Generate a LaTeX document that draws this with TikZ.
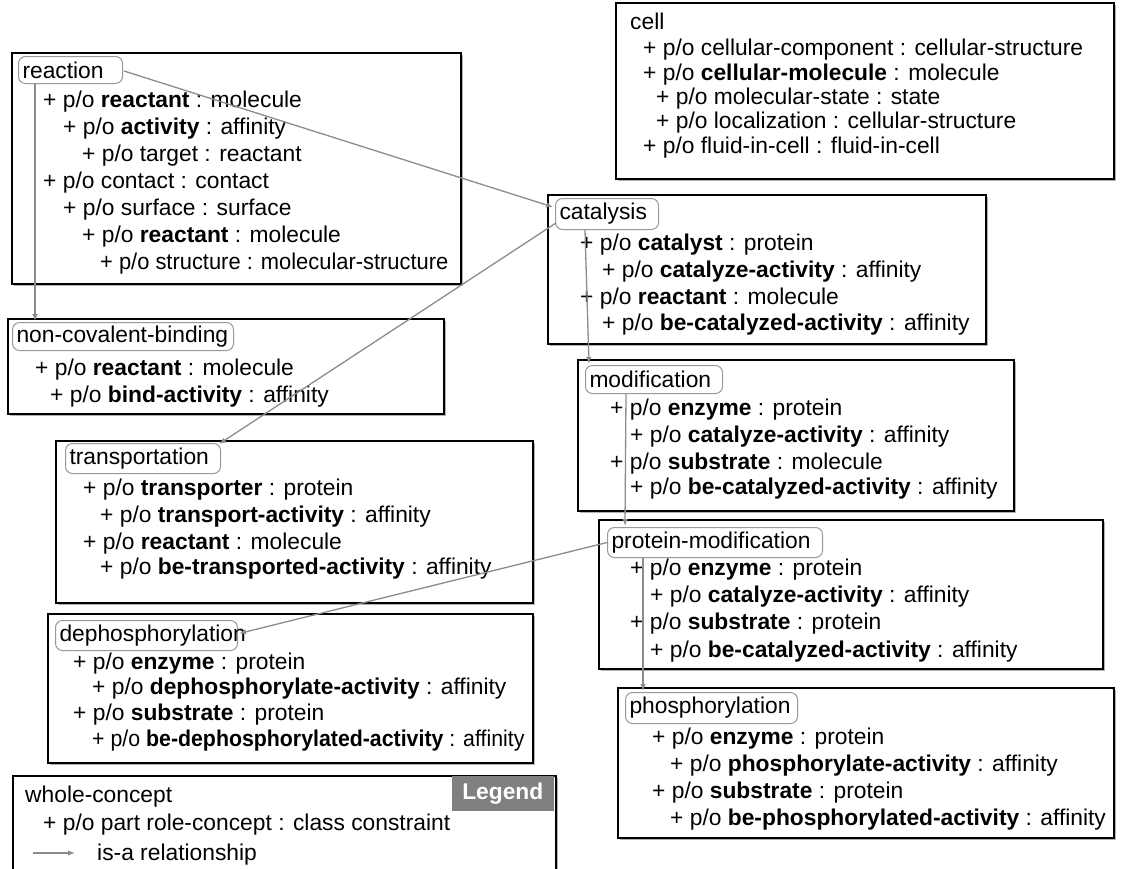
\documentclass[tikz,border=0pt]{standalone}
\usepackage{fontspec}
\usepackage{graphicx}
\setmainfont{Liberation Sans}
\usetikzlibrary{arrows.meta,calc,shadows}
\newcommand{\dfont}{\fontsize{22.8pt}{27pt}\selectfont}
\newcommand{\pline}[4]{\node[ptext] (#1) at (#2,#3) {#4};}
\begin{document}
\begin{tikzpicture}[x=1pt,y=-1pt,
  box/.style={draw=black, line width=1.6pt, fill=white, anchor=north west, inner sep=0pt,
    drop shadow={shadow xshift=2pt, shadow yshift=-2pt, fill=black!60, opacity=0.5}},
  lbl/.style={draw=black!40, line width=1pt, rounded corners=7pt, fill=white, anchor=north west,
    inner xsep=4pt, inner ysep=0pt, align=left, font=\dfont},
  ptext/.style={anchor=base west, inner sep=0pt, font=\dfont},
  isa/.style={draw=black!45, line width=1.3pt, -{Latex[length=7pt,width=5.5pt]}},
]
\useasboundingbox (0,0) rectangle (1125,868);
\clip (0,0) rectangle (1125,868);
\fill[white] (0,0) rectangle (1125,868);

% ---------- boxes ----------
\node[box, minimum width=498, minimum height=176] (cellBox) at (615,2) {};
\node[box, minimum width=449, minimum height=231] (reactionBox) at (11,52) {};
\node[box, minimum width=436, minimum height=95] (ncbBox) at (7,318) {};
\node[box, minimum width=438, minimum height=149] (catalysisBox) at (547,194) {};
\node[box, minimum width=436, minimum height=151] (modificationBox) at (577,359) {};
\node[box, minimum width=477, minimum height=162] (transportationBox) at (55,440) {};
\node[box, minimum width=504, minimum height=149] (pmBox) at (598,519) {};
\node[box, minimum width=485, minimum height=149] (dephBox) at (47,613) {};
\node[box, minimum width=496, minimum height=150] (phosBox) at (617,687) {};
\node[box, minimum width=543, minimum height=110] (legendBox) at (12,775) {};

% ---------- cell ----------
\pline{c0}{630}{29}{cell}
\pline{c1}{643}{55}{+ p/o cellular-component : cellular-structure}
\pline{c2}{643}{80}{+ p/o \textbf{cellular-molecule} : molecule}
\pline{c3}{656}{104}{+ p/o molecular-state : state}
\pline{c4}{656}{128}{+ p/o localization : cellular-structure}
\pline{c5}{643}{153}{+ p/o fluid-in-cell : fluid-in-cell}

% ---------- reaction ----------
\node[lbl, minimum width=104, minimum height=27, text width=96] (reactionL) at (18,56) {reaction};
\pline{r1}{43}{107}{+ p/o \textbf{reactant} : molecule}
\pline{r2}{63}{134}{+ p/o \textbf{activity} : affinity}
\pline{r3}{82}{161}{+ p/o target : reactant}
\pline{r4}{43}{188}{+ p/o contact : contact}
\pline{r5}{63}{215}{+ p/o surface : surface}
\pline{r6}{82}{242}{+ p/o \textbf{reactant} : molecule}
\pline{r7}{100}{269}{\scalebox{0.96}[1]{+ p/o structure : molecular-structure}}

% ---------- non-covalent-binding ----------
\node[lbl, minimum width=221, minimum height=28, text width=213] (ncbL) at (12,322) {non-covalent-binding};
\pline{n1}{35}{375}{+ p/o \textbf{reactant} : molecule}
\pline{n2}{50}{402}{+ p/o \textbf{bind-activity} : affinity}

% ---------- catalysis ----------
\node[lbl, minimum width=103, minimum height=31, text width=95] (catalysisL) at (555,198) {catalysis};
\pline{k1}{580}{250}{+ p/o \textbf{catalyst} : protein}
\pline{k2}{602}{277}{+ p/o \textbf{catalyze-activity} : affinity}
\pline{k3}{580}{304}{+ p/o \textbf{reactant} : molecule}
\pline{k4}{602}{330}{+ p/o \textbf{be-catalyzed-activity} : affinity}

% ---------- modification ----------
\node[lbl, minimum width=137, minimum height=28, text width=129] (modificationL) at (585,365) {modification};
\pline{m1}{610}{415}{+ p/o \textbf{enzyme} : protein}
\pline{m2}{630}{442}{+ p/o \textbf{catalyze-activity} : affinity}
\pline{m3}{610}{469}{+ p/o \textbf{substrate} : molecule}
\pline{m4}{630}{494}{+ p/o \textbf{be-catalyzed-activity} : affinity}

% ---------- transportation ----------
\node[lbl, minimum width=155, minimum height=30, text width=147] (transportationL) at (65,443) {transportation};
\pline{t1}{83}{495}{+ p/o \textbf{transporter} : protein}
\pline{t2}{100}{522}{+ p/o \textbf{transport-activity} : affinity}
\pline{t3}{83}{549}{+ p/o \textbf{reactant} : molecule}
\pline{t4}{100}{574}{+ p/o \textbf{be-transported-activity} : affinity}

% ---------- protein-modification ----------
\node[lbl, minimum width=215, minimum height=30, text width=207] (pmL) at (607,527) {protein-modification};
\pline{p1}{630}{575}{+ p/o \textbf{enzyme} : protein}
\pline{p2}{650}{602}{+ p/o \textbf{catalyze-activity} : affinity}
\pline{p3}{630}{629}{+ p/o \textbf{substrate} : protein}
\pline{p4}{650}{657}{+ p/o \textbf{be-catalyzed-activity} : affinity}

% ---------- dephosphorylation ----------
\node[lbl, minimum width=182, minimum height=30, text width=174] (dephL) at (55,620) {dephosphorylation};
\pline{d1}{73}{669}{+ p/o \textbf{enzyme} : protein}
\pline{d2}{92}{694}{+ p/o \textbf{dephosphorylate-activity} : affinity}
\pline{d3}{73}{720}{+ p/o \textbf{substrate} : protein}
\pline{d4}{92}{746}{\scalebox{0.935}[1]{+ p/o \textbf{be-dephosphorylated-activity} : affinity}}

% ---------- phosphorylation ----------
\node[lbl, minimum width=172, minimum height=31, text width=164] (phosL) at (625,692) {phosphorylation};
\pline{h1}{652}{744}{+ p/o \textbf{enzyme} : protein}
\pline{h2}{670}{771}{+ p/o \textbf{phosphorylate-activity} : affinity}
\pline{h3}{652}{798}{+ p/o \textbf{substrate} : protein}
\pline{h4}{670}{825}{+ p/o \textbf{be-phosphorylated-activity} : affinity}

% ---------- legend ----------
\node[fill=black!50, text=white, font=\dfont\bfseries, anchor=north east, minimum width=102,
  minimum height=35, inner sep=0pt] (legendTag) at (554,776) {Legend};
\pline{l1}{25}{802}{whole-concept}
\pline{l2}{43}{830}{+ p/o part role-concept : class constraint}
\pline{l3}{97}{860}{is-a relationship}
\coordinate (lgA) at (33,853);
\coordinate (lgB) at (75,853);

% ---------- is-a connectors ----------
\draw[isa] ($(reactionL.east)+(1,1)$) -- ($(catalysisL.west)+(-2,-7)$);
\draw[isa] ($(reactionL.south west)+(17,0)$) -- ($(ncbL.north west)+(23,-1)$);
\draw[isa] ($(catalysisL.west)+(1,9)$) -- ($(transportationL.north east)+(-2,1)$);
\draw[isa] ($(catalysisL.south west)+(30,0)$) -- ($(modificationL.north west)+(4,-1)$);
\draw[isa] ($(modificationL.south west)+(41,0)$) -- ($(pmL.north west)+(18,-1)$);
\draw[isa] (pmL.west) -- ($(dephL.east)+(1,-2)$);
\draw[isa] ($(pmL.south west)+(36,0)$) -- ($(phosL.north west)+(18,-1)$);
\draw[isa] (lgA) -- (lgB);
\end{tikzpicture}
\end{document}
